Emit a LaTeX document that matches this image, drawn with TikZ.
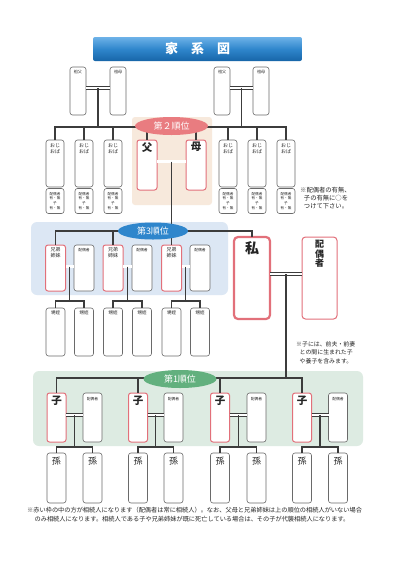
\documentclass[tikz,border=0pt]{standalone}
\usepackage{fontspec}
\setmainfont{Noto Sans CJK JP}
\usetikzlibrary{calc,shapes.geometric}
\definecolor{ln}{HTML}{3C3C3C}
\definecolor{bx}{HTML}{6A6A6A}
\definecolor{rd}{HTML}{E2707A}
\definecolor{pk}{HTML}{E97C80}
\definecolor{bl}{HTML}{2F86CC}
\definecolor{gr}{HTML}{62B07E}
\definecolor{bgb}{HTML}{DCE7F4}
\definecolor{bgg}{HTML}{DDEBE2}
\definecolor{bgp}{HTML}{F7E9DC}
\definecolor{ttop}{HTML}{6DB2E8}
\definecolor{tmid}{HTML}{2F86CC}
\definecolor{tbot}{HTML}{1765A8}
\newcommand\fsz[2]{\fontsize{#1}{#2}\selectfont}
\tikzset{
  base/.style={inner sep=0pt, outer sep=0pt, rounded corners=2.5pt, fill=white},
  gbox/.style={base, draw=bx, line width=0.6pt},
  rbox/.style={base, draw=rd, line width=1pt},
  conn/.style={draw=ln, line width=1.1pt},
  dbl/.style={draw=ln, line width=0.6pt, double=white, double distance=2.2pt},
  lab/.style={inner sep=0pt, anchor=north, align=center, text=black!85},
  order/.style={ellipse, inner sep=0pt, text=white, font=\fsz{9}{9}}
}
\begin{document}
\begin{tikzpicture}[x=1pt,y=-1pt]
\useasboundingbox (0,0) rectangle (400,566);
\fill[white] (0,0) rectangle (400,566);

% title
\node[inner sep=0pt, rounded corners=2pt, top color=ttop, bottom color=tbot, middle color=tmid,
      minimum width=209pt, minimum height=24pt, text=white, font=\fsz{13}{13}\bfseries] (title) at (197.5,49) {家\hspace{1em}系\hspace{1em}図};

% backgrounds
\fill[bgp, rounded corners=3pt] (132,117) rectangle (212,205);
\fill[bgb, rounded corners=6pt] (31,222) rectangle (228,295);
\fill[bgg, rounded corners=6pt] (33,371) rectangle (363,446);

% grandparents
\foreach \n/\x/\t in {gf1/78/祖父, gm1/118/祖母, gf2/222/祖父, gm2/261/祖母} {
  \node[gbox, minimum width=16pt, minimum height=48pt] (\n) at (\x,91) {};
  \node[lab, font=\fsz{4}{5}] at ([yshift=-3pt]\n.north) {\t};
}

% uncles / aunts
\foreach \x [count=\i] in {55,84,113,228,257,286} {
  \node[gbox, minimum width=18pt, minimum height=47pt] (u\i) at (\x,163.5) {};
  \node[gbox, minimum width=18pt, minimum height=25pt] (us\i) at (\x,201) {};
  \node[lab, font=\fsz{5}{5.8}] at ([yshift=-3pt]u\i.north) {おじ\\おば};
  \node[lab, font=\fsz{3.6}{4.7}] at ([yshift=-3.5pt]us\i.north) {配偶者\\有・無\\子\\有・無};
}

% parents
\node[rbox, minimum width=20pt, minimum height=50pt] (f) at (147,165) {};
\node[rbox, minimum width=20pt, minimum height=50pt] (m) at (196,165) {};
\node[lab, font=\fsz{10.5}{11}\bfseries] at ([yshift=-2pt]f.north) {父};
\node[lab, font=\fsz{10.5}{11}\bfseries] at ([yshift=-2pt]m.north) {母};

% siblings, their spouses, nephews
\foreach \xs/\xp [count=\i] in {55.5/84, 113/142, 171.5/200} {
  \node[rbox, minimum width=20pt, minimum height=46pt] (s\i) at (\xs,268) {};
  \node[gbox, minimum width=20pt, minimum height=46pt] (ss\i) at (\xp,268) {};
  \node[lab, font=\fsz{5}{5.6}] at ([yshift=-2.5pt]s\i.north) {兄弟\\姉妹};
  \node[lab, font=\fsz{3.8}{4.5}] at ([yshift=-3pt]ss\i.north) {配偶者};
  \node[gbox, minimum width=19pt, minimum height=48pt] (na\i) at (\xs,332) {};
  \node[gbox, minimum width=19pt, minimum height=48pt] (nb\i) at (\xp,332) {};
  \node[lab, font=\fsz{4.5}{5}] at ([yshift=-3pt]na\i.north) {甥姪};
  \node[lab, font=\fsz{4.5}{5}] at ([yshift=-3pt]nb\i.north) {甥姪};
}

% me and spouse
\node[base, draw=rd, line width=2.2pt, rounded corners=4pt, minimum width=36pt, minimum height=82pt] (me) at (252,278) {};
\node[rbox, rounded corners=3.5pt, minimum width=35pt, minimum height=82pt] (sp) at (319.5,278) {};
\node[lab, font=\fsz{14}{14}\bfseries] at ([yshift=-4.5pt]me.north) {私};
\node[lab, font=\fsz{9}{9.6}\bfseries] at ([yshift=-3pt]sp.north) {配\\偶\\者};

% children, their spouses, grandchildren
\foreach \xc/\xp [count=\i] in {56.5/92.5, 138/173.5, 220/256.5, 302/338} {
  \node[rbox, minimum width=19pt, minimum height=49pt] (c\i) at (\xc,417.5) {};
  \node[gbox, minimum width=19pt, minimum height=49pt] (cs\i) at (\xp,417.5) {};
  \node[lab, font=\fsz{10.5}{11}\bfseries] at ([yshift=-2.5pt]c\i.north) {子};
  \node[lab, font=\fsz{3.8}{4.5}] at ([yshift=-4pt]cs\i.north) {配偶者};
  \node[gbox, minimum width=19pt, minimum height=50pt] (ga\i) at (\xc,478) {};
  \node[gbox, minimum width=19pt, minimum height=50pt] (gb\i) at (\xp,478) {};
  \node[lab, font=\fsz{9}{9}] at ([yshift=-3.5pt]ga\i.north) {孫};
  \node[lab, font=\fsz{9}{9}] at ([yshift=-3.5pt]gb\i.north) {孫};
}

% ---- connectors ----
% grandparents left
\draw[dbl] ([yshift=3pt]gf1.east) -- ([yshift=3pt]gm1.west);
\coordinate (g1m) at ($(gf1.east)!0.5!(gm1.west)+(0,-3)$);
\draw[conn] (g1m) -- ($(g1m |- u1.north)+(0,-13)$);
\draw[conn] (u1.north) -- ++(0,-13) -| (f.north);
\draw[conn] (u2.north) -- ++(0,-13);
\draw[conn] (u3.north) -- ++(0,-13);
% grandparents right
\draw[dbl] ([yshift=3pt]gf2.east) -- ([yshift=3pt]gm2.west);
\coordinate (g2m) at ($(gf2.east)!0.5!(gm2.west)+(0,-3)$);
\draw[conn] (g2m) -- ($(g2m |- u4.north)+(0,-13)$);
\draw[conn] (m.north) -- ++(0,-13) -| (u6.north);
\draw[conn] (u4.north) -- ++(0,-13);
\draw[conn] (u5.north) -- ++(0,-13);
% parents
\draw[dbl] ([yshift=3.5pt]f.east) -- ([yshift=3.5pt]m.west);
\coordinate (pm) at ($(f.east)!0.5!(m.west)+(0,-3.5)$);
\draw[conn] (pm) -- (s3.north);
\draw[conn] (s1.north) -- ++(0,-14) -| (me.north);
\draw[conn] (s2.north) -- ++(0,-14);
% sibling couples
\foreach \i in {1,2,3} {
  \draw[dbl] ([yshift=1.5pt]s\i.east) -- ([yshift=1.5pt]ss\i.west);
  \coordinate (sm\i) at ($(s\i.east)!0.5!(ss\i.west)+(0,-1.5)$);
  \draw[conn] (sm\i) -- ($(sm\i |- na\i.north)+(0,-7)$);
  \draw[conn] (na\i.north) -- ++(0,-7) -| (nb\i.north);
}
% me and spouse
\draw[dbl] ([yshift=4pt]me.east) -- ([yshift=4pt]sp.west);
\coordinate (mm) at ($(me.east)!0.5!(sp.west)+(0,-4)$);
\draw[conn] (mm) -- ($(mm |- c1.north)+(0,-15)$);
\draw[conn] (c1.north) -- ++(0,-15) -| (c4.north);
\draw[conn] (c2.north) -- ++(0,-15);
\draw[conn] (c3.north) -- ++(0,-15);
% children couples
\foreach \i in {1,2,3,4} {
  \draw[dbl] ([yshift=2.5pt]c\i.east) -- ([yshift=2.5pt]cs\i.west);
  \coordinate (cm\i) at ($(c\i.east)!0.5!(cs\i.west)+(0,-2.5)$);
  \draw[conn] (cm\i) -- ($(cm\i |- ga\i.north)+(0,-6)$);
  \draw[conn] (ga\i.north) -- ++(0,-6) -| (gb\i.north);
}

% order ellipses
\node[order, fill=pk, minimum width=73pt, minimum height=18pt] (r2) at (171.5,126) {第２順位};
\node[order, fill=bl, minimum width=70pt, minimum height=17pt] (r3) at (153,231) {第3順位};
\node[order, fill=gr, minimum width=73pt, minimum height=18pt] (r1) at (180,379) {第1順位};

% notes
\node[inner sep=0pt, anchor=north west, align=left, font=\fsz{6.3}{8}, text=black!85] (note1) at (300,187)
  {※配偶者の有無、\\\hspace{0.6em}子の有無に○を\\\hspace{0.6em}つけて下さい。};
\node[inner sep=0pt, anchor=north west, align=left, font=\fsz{5.9}{8.5}, text=black!85] (note2) at (296,341)
  {※子には、前夫・前妻\\\hspace{0.6em}との間に生まれた子\\\hspace{0.6em}や養子を含みます。};
\node[inner sep=0pt, anchor=north west, align=left, font=\fsz{6.2}{9}, text=black!85] (foot) at (27,507)
  {※赤い枠の中の方が相続人になります（配偶者は常に相続人）。なお、父母と兄弟姉妹は上の順位の相続人がいない場合\\\hspace{1.2em}のみ相続人になります。相続人である子や兄弟姉妹が既に死亡している場合は、その子が代襲相続人になります。};
\end{tikzpicture}
\end{document}
